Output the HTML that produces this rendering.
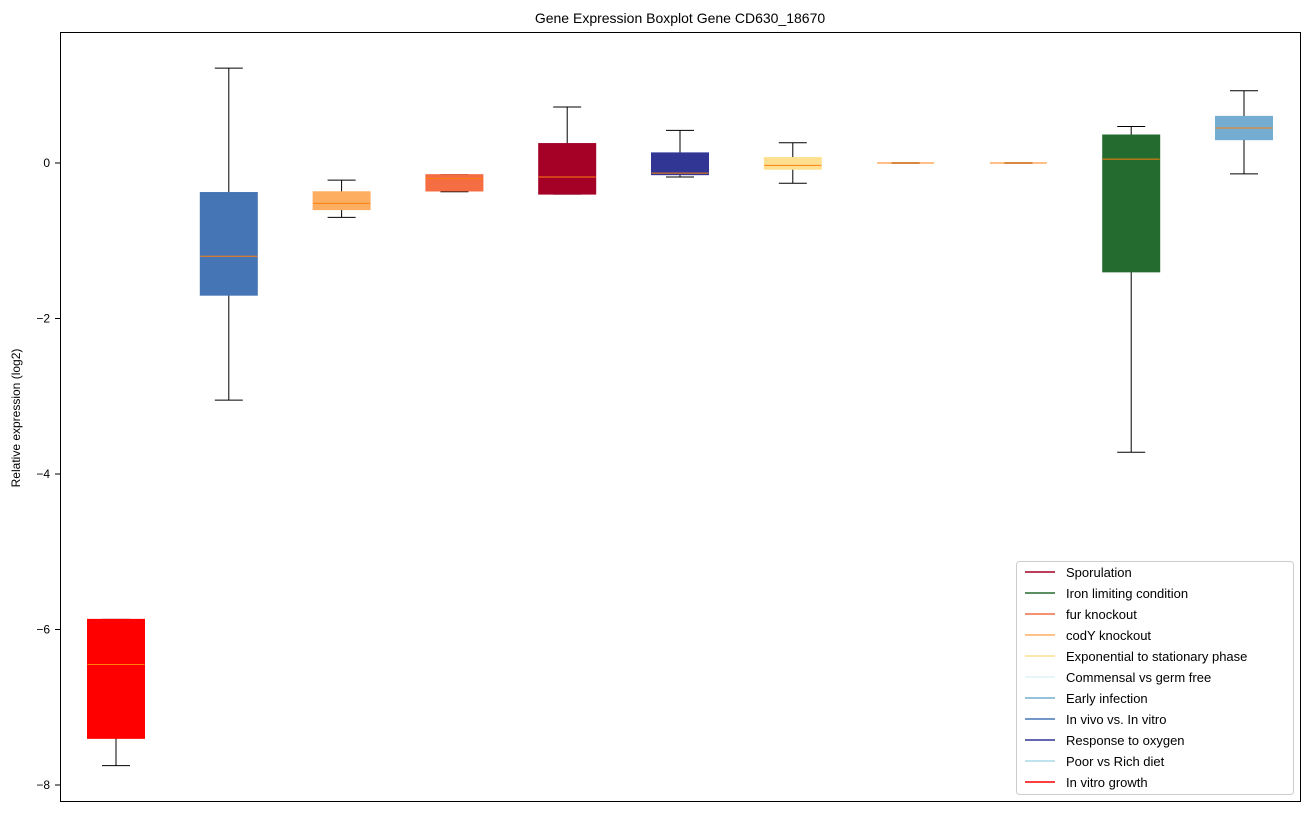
<!DOCTYPE html>
<html><head><meta charset="utf-8"><style>
body{margin:0;background:#fff;font-family:"Liberation Sans","DejaVu Sans",sans-serif;}
svg text{font-family:"Liberation Sans","DejaVu Sans",sans-serif;}
</style></head><body>
<svg id="chart" width="1309" height="812" xmlns="http://www.w3.org/2000/svg">
<rect width="1309" height="812" fill="#fff"/>
<text x="680" y="23" font-size="14" text-anchor="middle">Gene Expression Boxplot Gene CD630_18670</text>
<text transform="translate(20,418) rotate(-90)" font-size="12" text-anchor="middle">Relative expression (log2)</text>
<g id="marks"></g>
<g id="yticks"></g>
<rect x="60.5" y="32.5" width="1240" height="769" fill="none" stroke="#000" stroke-width="1"/>
<g id="legend"></g>
</svg>
<script>
const groups = ["In vitro growth","In vivo vs. In vitro","codY knockout","fur knockout","Sporulation","Response to oxygen","Exponential to stationary phase","Commensal vs germ free","Poor vs Rich diet","Iron limiting condition","Early infection"];
const colors = ["#ff0000","#4575b4","#fdae61","#f46d43","#a50026","#313695","#fee090","#e0f3f8","#abd9e9","#236b2e","#74add1"];
const whiskerLow = [-7.75,-3.05,-0.7,-0.37,-0.4,-0.18,-0.26,0,0,-3.72,-0.14];
const q1 = [-7.4,-1.7,-0.6,-0.36,-0.4,-0.15,-0.08,0,0,-1.4,0.3];
const median = [-6.45,-1.2,-0.52,-0.2,-0.18,-0.13,-0.03,0,0,0.05,0.45];
const q3 = [-5.87,-0.38,-0.37,-0.15,0.25,0.13,0.07,0,0,0.36,0.6];
const whiskerHigh = [-5.87,1.22,-0.22,-0.15,0.72,0.42,0.26,0,0,0.47,0.93];
const yTicks = [0,-2,-4,-6,-8];
const yTickLabels = ["0","\u22122","\u22124","\u22126","\u22128"];
const legendLabels = ["Sporulation","Iron limiting condition","fur knockout","codY knockout","Exponential to stationary phase","Commensal vs germ free","Early infection","In vivo vs. In vitro","Response to oxygen","Poor vs Rich diet","In vitro growth"];
const legendColors = ["#a50026","#236b2e","#f46d43","#fdae61","#fee090","#e0f3f8","#74add1","#4575b4","#313695","#abd9e9","#ff0000"];

const NS="http://www.w3.org/2000/svg";
const y = v => 163 - v*77.75;
const x = i => 116 + i*112.8;
const bw = 57;
function mk(tag, attrs, parent){const e=document.createElementNS(NS,tag);for(const k in attrs)e.setAttribute(k,attrs[k]);parent.appendChild(e);return e;}
const marks=document.getElementById('marks');
groups.forEach((g,i)=>{
  const G=mk('g',{},marks);
  
  
  const cx=x(i);
  const flat = whiskerHigh[i]===whiskerLow[i];
  const capCol = flat ? '#b09070' : '#000';
  mk('line',{x1:cx,x2:cx,y1:y(whiskerLow[i]),y2:y(q1[i]),stroke:'#000'},G);
  mk('line',{x1:cx,x2:cx,y1:y(q3[i]),y2:y(whiskerHigh[i]),stroke:'#000'},G);
  mk('line',{x1:cx-14,x2:cx+14,y1:y(whiskerLow[i]),y2:y(whiskerLow[i]),stroke:capCol,'stroke-width':flat?2:1},G);
  mk('line',{x1:cx-14,x2:cx+14,y1:y(whiskerHigh[i]),y2:y(whiskerHigh[i]),stroke:capCol,'stroke-width':flat?2:1},G);
  const top=y(q3[i]),h=y(q1[i])-top;
  if(h>0) mk('rect',{x:cx-bw/2,y:top,width:bw,height:h,fill:colors[i],stroke:colors[i]},G);
  mk('line',{x1:cx-bw/2,x2:cx+bw/2,y1:y(median[i]),y2:y(median[i]),stroke:'#ff7f0e','stroke-width':1},G);
});
const yt=document.getElementById('yticks');
yTicks.forEach((v,i)=>{
  const t=mk('g',{},yt);
  
  
  mk('line',{x1:55,x2:60,y1:y(v),y2:y(v),stroke:'#000'},t);
  const tx=mk('text',{x:50,y:y(v)+4,'font-size':12,'text-anchor':'end'},t);
  tx.textContent=yTickLabels[i];
});
const lg=document.getElementById('legend');
const L=mk('g',{},lg);


mk('rect',{x:1016.5,y:561.5,width:277,height:233,rx:3,fill:'#fff','fill-opacity':0.8,stroke:'#ccc'},L);
legendLabels.forEach((lab,i)=>{
  const e=mk('g',{},L);
  
  
  const yy=572+i*21;
  mk('line',{x1:1025,x2:1055,y1:yy,y2:yy,stroke:legendColors[i],'stroke-width':1.5},e);
  const t=mk('text',{x:1066,y:yy+5,'font-size':13},e);
  t.textContent=lab;
});
</script>
</body></html>
